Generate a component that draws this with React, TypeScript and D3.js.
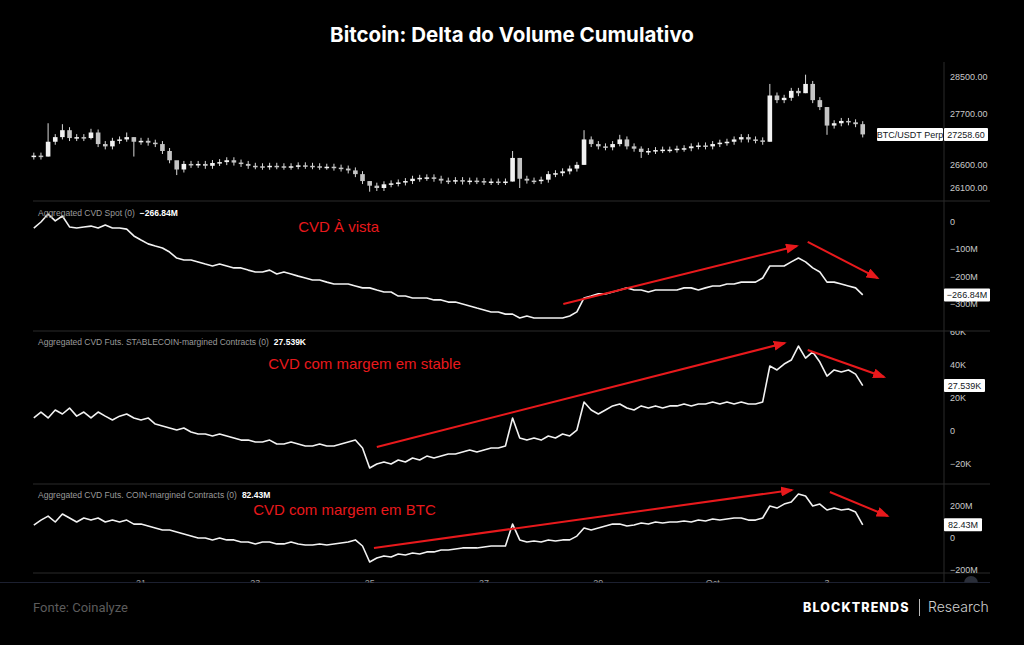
import { useMemo } from "react";
import * as d3 from "d3";

// Canvas and layout
const W = 1024;
const H = 645;
const AXIS_X = 944;
const LEFT = 33;
const RIGHT = 990;
const RED = "#e8191c";

// 3-hour samples starting Sep 19 03:00 UTC
const START = Date.UTC(2023, 8, 19, 3);
const STEP = 3 * 3600 * 1000;

// BTC/USDT Perp closes
const priceClose = [
  26800, 26780, 27100, 27200, 27350, 27180, 27200, 27180, 27300, 27050,
  27000, 27120, 27150, 27200, 27100, 27120, 27080, 27050, 26900, 26700,
  26500, 26620, 26600, 26620, 26580, 26640, 26660, 26700, 26650, 26620,
  26580, 26570, 26560, 26580, 26570, 26560, 26570, 26590, 26580, 26570,
  26560, 26560, 26540, 26520, 26480, 26400, 26250, 26150, 26100, 26180,
  26200, 26220, 26250, 26300, 26320, 26330, 26300, 26260, 26250, 26270,
  26240, 26260, 26250, 26230, 26240, 26230, 26240, 26750, 26300, 26260,
  26250, 26280, 26400, 26420, 26460, 26520, 26600, 27150, 27050, 27000,
  26980, 27050, 27150, 27000, 26950, 26880, 26900, 26920, 26930, 26930,
  26950, 26960, 27000, 27020, 27000, 27050, 27080, 27100, 27150, 27200,
  27150, 27130, 27100, 28100, 28000, 28050, 28200, 28150, 28350, 28000,
  27850, 27450, 27500, 27550, 27520, 27480, 27258.6,
];
const priceOpen0 = 26780;
// [index, high, low] for the candles with long wicks
const priceWicks: [number, number, number][] = [
  [2, 27500, 26780], [4, 27480, 27150], [8, 27380, 27150], [13, 27300, 27100],
  [14, 27200, 26780], [20, 26620, 26380], [47, 26250, 26020], [67, 26900, 26240],
  [68, 26750, 26100], [77, 27350, 26600], [82, 27250, 27000], [85, 27000, 26750],
  [103, 28350, 27100], [108, 28550, 28150], [111, 27850, 27250],
];

// Aggregated CVD Spot (millions)
const spotCvd = [
  -22, 0, 29, 4, 22, -18, -22, -18, -15, -22,
  -11, -22, -22, -26, -51, -66, -80, -88, -95, -110,
  -132, -139, -139, -146, -154, -161, -154, -161, -168, -168,
  -176, -183, -183, -176, -190, -183, -190, -198, -205, -212,
  -212, -220, -227, -227, -227, -234, -241, -241, -249, -256,
  -256, -271, -271, -278, -278, -278, -285, -285, -293, -293,
  -300, -307, -315, -322, -329, -329, -337, -337, -351, -344,
  -351, -351, -351, -351, -351, -344, -329, -278, -271, -263,
  -263, -256, -249, -241, -249, -249, -256, -249, -249, -249,
  -249, -241, -241, -249, -241, -234, -234, -227, -227, -220,
  -220, -220, -205, -161, -161, -161, -146, -132, -146, -168,
  -183, -220, -220, -227, -234, -241, -266.84,
];

// Aggregated CVD Futs. STABLECOIN-margined (thousands)
const stableCvd = [
  7.9, 11.5, 7.9, 12.7, 10.3, 13.9, 9, 11.5, 7.9, 11.5,
  9, 6.7, 9, 10.3, 7.9, 6.7, 7.9, 4.2, 3, 1.8,
  0.6, 1.8, -0.6, -1.8, -1.8, -3, -1.8, -3, -4.2, -5.5,
  -5.5, -6.7, -6.7, -5.5, -7.9, -7.9, -6.7, -7.9, -9.1, -9.1,
  -7.9, -9.1, -9.1, -7.9, -6.7, -5.5, -10.3, -22.4, -20, -18.8,
  -20, -17.6, -18.8, -16.4, -17.6, -15.2, -16.4, -15.2, -13.9, -13.9,
  -12.7, -11.5, -12.7, -11.5, -10.3, -10.3, -9.1, 7.9, -4.2, -5.5,
  -4.2, -5.5, -3, -4.2, -1.8, -3, 0.6, 17.6, 12.7, 10.3,
  12.7, 15.2, 16.4, 13.9, 12.7, 15.2, 13.9, 15.2, 13.9, 15.2,
  15.2, 16.4, 15.2, 16.4, 16.4, 17.6, 16.4, 17.6, 16.4, 17.6,
  16.4, 16.4, 17.6, 39.4, 37, 40.6, 43, 51.5, 44.2, 47.9,
  41.8, 33.3, 37, 35.8, 37, 34.5, 27.539,
];

// Aggregated CVD Futs. COIN-margined (millions)
const coinCvd = [
  81, 112, 137, 100, 150, 125, 100, 125, 112, 125,
  100, 112, 100, 112, 87, 87, 75, 62, 50, 50,
  37, 25, 12, 0, 0, -12, 0, -12, -12, -25,
  -25, -37, -25, -25, -37, -37, -25, -37, -44, -44,
  -37, -44, -37, -31, -25, -12, -50, -150, -125, -112,
  -119, -100, -106, -94, -100, -87, -87, -75, -75, -69,
  -62, -62, -62, -56, -50, -50, -50, 87, -12, -25,
  -19, -25, -12, -19, -12, -12, 12, 62, 50, 62,
  75, 87, 87, 75, 81, 94, 87, 100, 94, 100,
  100, 106, 100, 112, 106, 119, 112, 119, 125, 125,
  112, 112, 125, 200, 187, 212, 225, 275, 262, 200,
  212, 175, 187, 175, 181, 162, 82.43,
];

// Axis ticks
const dayTicks = [
  Date.UTC(2023, 8, 21), Date.UTC(2023, 8, 23), Date.UTC(2023, 8, 25),
  Date.UTC(2023, 8, 27), Date.UTC(2023, 8, 29), Date.UTC(2023, 9, 1),
  Date.UTC(2023, 9, 3),
];
const dayLabels = ["21", "23", "25", "27", "29", "Oct", "3"];
const priceTicks = [28500, 27700, 26600, 26100];
const spotTicks = [0, -100, -200, -300];
const spotTickLabels = ["0", "−100M", "−200M", "−300M"];
const stableTicks = [60, 40, 20, 0, -20];
const stableTickLabels = ["60K", "40K", "20K", "0", "−20K"];
const coinTicks = [200, 0, -200];
const coinTickLabels = ["200M", "0", "−200M"];

// Red annotations, positions given as [sample index, panel value]
const arrows: { panel: string; from: [number, number]; to: [number, number] }[] = [
  { panel: "spot", from: [74.1, -300], to: [106.8, -88] },
  { panel: "spot", from: [108.3, -73], to: [118.1, -205] },
  { panel: "stable", from: [48.0, -9.7], to: [105.1, 53.3] },
  { panel: "stable", from: [108.3, 49.1], to: [119.0, 32.7] },
  { panel: "coin", from: [47.6, -62.5], to: [106.1, 300] },
  { panel: "coin", from: [111.4, 287.5], to: [119.5, 137.5] },
];
const notes: { panel: string; at: [number, number]; text: string }[] = [
  { panel: "spot", at: [37.0, -36.6], text: "CVD À vista" },
  { panel: "stable", at: [32.8, 37.6], text: "CVD com margem em stable" },
  { panel: "coin", at: [30.7, 144], text: "CVD com margem em BTC" },
];

const tAt = (i: number) => new Date(START + i * STEP);

export default function App() {
  const x = useMemo(
    () =>
      d3
        .scaleUtc()
        .domain([new Date(dayTicks[0]), new Date(dayTicks[6])])
        .range([141, 827]),
    []
  );

  const panels = useMemo(() => {
    return {
      price: { top: 62, bottom: 201, y: d3.scaleLinear().domain([26100, 28500]).range([188, 77]) },
      spot: { top: 201, bottom: 331, y: d3.scaleLinear().domain([-300, 0]).range([304, 222]) },
      stable: { top: 331, bottom: 484, y: d3.scaleLinear().domain([-20, 40]).range([464, 365]) },
      coin: { top: 484, bottom: 573, y: d3.scaleLinear().domain([-200, 200]).range([570, 506]) },
    } as Record<string, { top: number; bottom: number; y: d3.ScaleLinear<number, number> }>;
  }, []);

  const linePath = (vals: number[], y: d3.ScaleLinear<number, number>) =>
    d3
      .line<number>()
      .x((_, i) => x(tAt(i)))
      .y((d) => y(d))(vals) || "";

  const candles = priceClose.map((c, i) => {
    const o = i === 0 ? priceOpen0 : priceClose[i - 1];
    const wick = priceWicks.find((w) => w[0] === i);
    const y = panels.price.y;
    const hi = Math.max(o, c);
    const lo = Math.min(o, c);
    return {
      cx: x(tAt(i)),
      yTop: y(hi),
      yBot: y(lo),
      wTop: wick ? y(wick[1]) : y(hi) - 3,
      wBot: wick ? y(wick[2]) : y(lo) + 3,
      up: c >= o,
    };
  });

  const axisText = { fontFamily: "Liberation Sans, Arial, sans-serif", fontSize: 9, fill: "#c9c9c9" };

  const renderAxis = (
    key: string,
    ticks: number[],
    labels: string[],
  ) => {
    const p = panels[key];
    return (
      <g clipPath={`url(#clip-${key})`}>
        {ticks.map((t, i) => (
          <text key={t} x={AXIS_X + 6} y={p.y(t)} dy="0.35em" {...axisText}>
            {labels[i]}
          </text>
        ))}
      </g>
    );
  };

  const tag = (xLeft: number, yMid: number, w: number, text: string) => (
    <g>
      <rect x={xLeft} y={yMid - 6.5} width={w} height={13} fill="#ffffff" rx={1} />
      <text
        x={xLeft + w / 2}
        y={yMid}
        dy="0.35em"
        textAnchor="middle"
        fontFamily="Liberation Sans, Arial, sans-serif"
        fontSize={9}
        fill="#131722"
      >
        {text}
      </text>
    </g>
  );

  const panelLabel = (yBase: number, name: string, value: string) => (
    <text x={38} y={yBase} fontFamily="Liberation Sans, Arial, sans-serif" fontSize={8.5} fill="#9b9b9b">
      {name}
      <tspan dx={5} fill="#ffffff" fontWeight="bold">
        {value}
      </tspan>
    </text>
  );

  const last = (a: number[]) => a[a.length - 1];

  return (
    <svg
      width={W}
      height={H}
      style={{ position: "absolute", left: 0, top: 0, background: "#000" }}
    >
      <defs>
        {Object.entries(panels).map(([k, p]) => (
          <clipPath id={`clip-${k}`} key={k}>
            <rect x={0} y={p.top} width={W} height={p.bottom - p.top} />
          </clipPath>
        ))}
        <clipPath id="clip-time">
          <rect x={0} y={573} width={W} height={9.5} />
        </clipPath>
        <marker
          id="arrowRed"
          markerUnits="userSpaceOnUse"
          markerWidth={13}
          markerHeight={10}
          refX={11}
          refY={5}
          orient="auto"
        >
          <path d="M0,0 L13,5 L0,10 z" fill={RED} />
        </marker>
      </defs>

      <rect width={W} height={H} fill="#000" />

      {/* Title */}
      <text
        x={512}
        y={42}
        textAnchor="middle"
        fontFamily="Inter, Roboto, sans-serif"
        fontWeight={700}
        fontSize={20.5}
        fill="#ffffff"
      >
        Bitcoin: Delta do Volume Cumulativo
      </text>

      {/* Panel frames */}
      {[201, 331, 484, 573].map((yy) => (
        <line key={yy} x1={LEFT} x2={RIGHT} y1={yy} y2={yy} stroke="#2a2a2a" strokeWidth={1} />
      ))}
      <line x1={0} x2={RIGHT} y1={582.5} y2={582.5} stroke="#1c2030" strokeWidth={1} />
      <line x1={AXIS_X} x2={AXIS_X} y1={62} y2={583} stroke="#2a2a2a" strokeWidth={1} />

      {/* Price candles */}
      <g clipPath="url(#clip-price)">
        {candles.map((c, i) => (
          <g key={i}>
            <line x1={c.cx} x2={c.cx} y1={c.wTop} y2={c.wBot} stroke="#d8d8d8" strokeWidth={1} />
            <rect
              x={c.cx - 2.3}
              y={c.yTop}
              width={4.6}
              height={Math.max(1.5, c.yBot - c.yTop)}
              fill={c.up ? "#f2f2f2" : "#c4c4c4"}
            />
          </g>
        ))}
      </g>

      {/* CVD lines */}
      <path d={linePath(spotCvd, panels.spot.y)} fill="none" stroke="#f2f2f2" strokeWidth={1.6} strokeLinejoin="round" />
      <path d={linePath(stableCvd, panels.stable.y)} fill="none" stroke="#f2f2f2" strokeWidth={1.6} strokeLinejoin="round" />
      <path d={linePath(coinCvd, panels.coin.y)} fill="none" stroke="#f2f2f2" strokeWidth={1.6} strokeLinejoin="round" />

      {/* Panel labels */}
      {panelLabel(216, "Aggregated CVD Spot (0)", "−266.84M")}
      {panelLabel(345, "Aggregated CVD Futs. STABLECOIN-margined Contracts (0)", "27.539K")}
      {panelLabel(498, "Aggregated CVD Futs. COIN-margined Contracts (0)", "82.43M")}

      {/* Right axes */}
      {renderAxis("price", priceTicks, priceTicks.map((d) => d3.format(".2f")(d)))}
      {renderAxis("spot", spotTicks, spotTickLabels)}
      {renderAxis("stable", stableTicks, stableTickLabels)}
      {renderAxis("coin", coinTicks, coinTickLabels)}

      {/* Last value tags */}
      {tag(877, panels.price.y(last(priceClose)), 66, "BTC/USDT Perp")}
      {tag(AXIS_X, panels.price.y(last(priceClose)), 44, d3.format(".2f")(last(priceClose)))}
      {tag(AXIS_X, panels.spot.y(last(spotCvd)), 46, "−266.84M")}
      {tag(AXIS_X, panels.stable.y(last(stableCvd)), 41, "27.539K")}
      {tag(AXIS_X, panels.coin.y(last(coinCvd)), 38, "82.43M")}

      {/* Time axis */}
      <g clipPath="url(#clip-time)">
        {dayTicks.map((d, i) => (
          <text
            key={d}
            x={x(new Date(d))}
            y={586}
            textAnchor="middle"
            fontFamily="Liberation Sans, Arial, sans-serif"
            fontSize={9}
            fill="#a0a0a0"
          >
            {dayLabels[i]}
          </text>
        ))}
        <circle cx={971} cy={583} r={7} fill="#2a2e39" />
      </g>

      {/* Red annotations */}
      {arrows.map((a, i) => {
        const y = panels[a.panel].y;
        return (
          <line
            key={i}
            x1={x(tAt(a.from[0]))}
            y1={y(a.from[1])}
            x2={x(tAt(a.to[0]))}
            y2={y(a.to[1])}
            stroke={RED}
            strokeWidth={2}
            markerEnd="url(#arrowRed)"
          />
        );
      })}
      {notes.map((n, i) => (
        <text
          key={i}
          x={x(tAt(n.at[0]))}
          y={panels[n.panel].y(n.at[1])}
          fontFamily="Liberation Sans, Arial, sans-serif"
          fontSize={15}
          fill={RED}
        >
          {n.text}
        </text>
      ))}

      {/* Footer */}
      <text x={33} y={612} fontFamily="Roboto, sans-serif" fontSize={13} fill="#5c5c5c">
        Fonte: Coinalyze
      </text>
      <text
        x={803}
        y={612}
        fontFamily="Inter, sans-serif"
        fontWeight={800}
        fontSize={12.5}
        letterSpacing={1.1}
        fill="#ffffff"
      >
        BLOCKTRENDS
      </text>
      <line x1={919.5} x2={919.5} y1={599} y2={616} stroke="#bbbbbb" strokeWidth={1} />
      <text x={928} y={612} fontFamily="Inter, sans-serif" fontWeight={300} fontSize={14} fill="#d0d0d0">
        Research
      </text>
    </svg>
  );
}
